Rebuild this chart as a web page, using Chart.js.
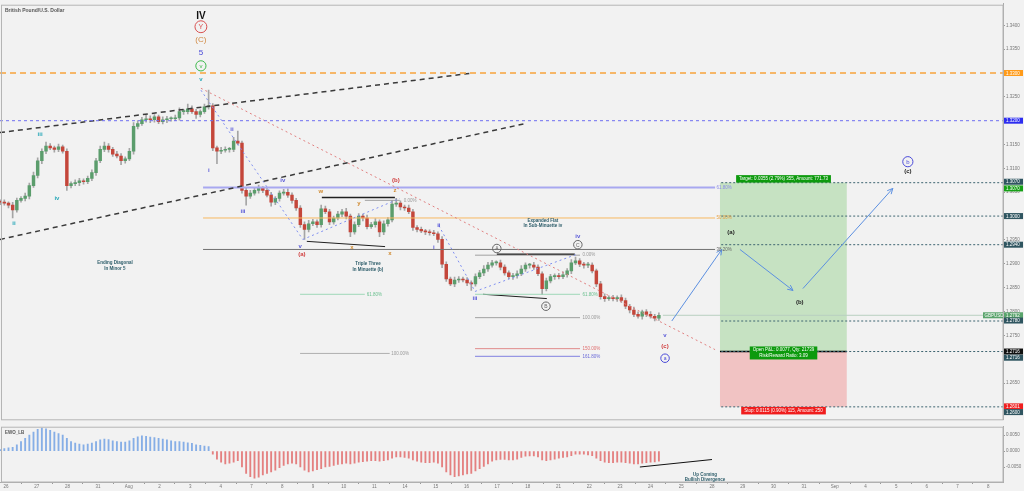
<!DOCTYPE html>
<html>
<head>
<meta charset="utf-8">
<script src="https://cdn.jsdelivr.net/npm/chart.js@4.4.0/dist/chart.umd.min.js"></script>
<style>
  html, body { margin: 0; padding: 0; background: #f2f2f2; }
  #wrap { position: relative; width: 1024px; height: 491px; overflow: hidden; }
  #price { position: absolute; left: 0; top: 0; }
  #osc { position: absolute; left: 0; top: 423px; }
</style>
</head>
<body>
<div id="wrap">
  <canvas id="price" width="1024" height="423"></canvas>
  <canvas id="osc" width="1024" height="68"></canvas>
</div>
<script>
// GBPUSD 4H, 26 Jul - 24 Aug 2017 (x in trading days, 0 = 26 Jul)
const dayLabels = ['26', '27', '28', '31', 'Aug', '2', '3', '4', '7', '8', '9', '10', '11', '14', '15', '16', '17', '18',
  '21', '22', '23', '24', '25', '28', '29', '30', '31', 'Sep', '4', '5', '6', '7', '8'];

const firstOpen = 1.3030;
const closes = [
  1.3029, 1.3027, 1.3023, 1.3013, 1.3033, 1.3037, 1.3042, 1.3064, 1.3085, 1.3116,
  1.3136, 1.3147, 1.3143, 1.3140, 1.3145, 1.3136, 1.3064, 1.3068, 1.3070, 1.3074,
  1.3072, 1.3079, 1.3091, 1.3116, 1.3140, 1.3147, 1.3140, 1.3130, 1.3126, 1.3116,
  1.3120, 1.3136, 1.3188, 1.3194, 1.3202, 1.3204, 1.3202, 1.3208, 1.3198, 1.3202,
  1.3204, 1.3204, 1.3206, 1.3219, 1.3219, 1.3225, 1.3219, 1.3213, 1.3219, 1.3229,
  1.3231, 1.3143, 1.3136, 1.3138, 1.3140, 1.3140, 1.3157, 1.3153, 1.3054, 1.3042,
  1.3048, 1.3054, 1.3058, 1.3054, 1.3044, 1.3029, 1.3037, 1.3048, 1.3050, 1.3044,
  1.3033, 1.3017, 1.2982, 1.2972, 1.2984, 1.2988, 1.2982, 1.3015, 1.3009, 1.2988,
  1.2996, 1.3004, 1.3009, 1.3000, 1.2967, 1.2982, 1.3000, 1.2996, 1.2978, 1.2982,
  1.2988, 1.2967, 1.2984, 1.2992, 1.3025, 1.3027, 1.3019, 1.3017, 1.3009, 1.2976,
  1.2972, 1.2969, 1.2967, 1.2965, 1.2963, 1.2951, 1.2899, 1.2868, 1.2858, 1.2866,
  1.2868, 1.2866, 1.2860, 1.2858, 1.2873, 1.2881, 1.2889, 1.2897, 1.2902, 1.2902,
  1.2893, 1.2881, 1.2873, 1.2875, 1.2879, 1.2889, 1.2897, 1.2897, 1.2893, 1.2879,
  1.2848, 1.2864, 1.2873, 1.2875, 1.2873, 1.2877, 1.2885, 1.2902, 1.2906, 1.2899,
  1.2897, 1.2897, 1.2885, 1.2858, 1.2831, 1.2827, 1.2829, 1.2827, 1.2829, 1.2823,
  1.2811, 1.2803, 1.2794, 1.2790, 1.2799, 1.2794, 1.2790, 1.2786, 1.2792
];
// wick lengths in pips beyond the body
const upWick = [
  4, 5, 3, 6, 5, 4, 6, 5, 7, 6,
  5, 8, 5, 4, 6, 4, 5, 4, 6, 5,
  4, 5, 6, 5, 7, 8, 5, 4, 6, 5,
  4, 6, 8, 6, 5, 7, 6, 5, 4, 6,
  5, 4, 6, 8, 5, 10, 6, 5, 4, 6,
  33, 5, 4, 6, 5, 4, 8, 21, 4, 5,
  6, 5, 7, 4, 5, 6, 4, 5, 6, 7,
  5, 4, 5, 6, 7, 5, 4, 8, 6, 5,
  4, 6, 5, 7, 4, 6, 5, 4, 6, 5,
  7, 4, 6, 5, 8, 10, 5, 4, 6, 5,
  4, 5, 3, 4, 5, 4, 6, 5, 4, 6,
  5, 4, 5, 4, 6, 5, 7, 6, 5, 4,
  6, 5, 4, 5, 6, 7, 5, 4, 6, 5,
  4, 6, 5, 4, 5, 6, 5, 7, 8, 5,
  4, 6, 5, 4, 5, 6, 4, 5, 4, 6,
  5, 4, 6, 5, 4, 5, 6, 4, 5
];
const downWick = [
  5, 4, 6, 17, 5, 4, 5, 6, 4, 5,
  6, 5, 4, 6, 5, 4, 10, 5, 4, 6,
  5, 4, 5, 6, 4, 5, 6, 5, 4, 8,
  5, 4, 6, 5, 4, 5, 6, 5, 4, 5,
  6, 5, 4, 5, 6, 5, 4, 8, 5, 4,
  5, 6, 26, 5, 4, 6, 5, 4, 6, 19,
  5, 4, 6, 5, 4, 8, 5, 6, 4, 5,
  6, 5, 6, 21, 5, 4, 6, 5, 4, 6,
  5, 4, 5, 6, 10, 5, 4, 6, 5, 4,
  5, 10, 6, 5, 4, 5, 6, 5, 4, 6,
  5, 4, 6, 5, 4, 6, 7, 5, 4, 6,
  5, 4, 6, 14, 5, 4, 6, 5, 4, 5,
  6, 5, 4, 6, 5, 4, 5, 6, 5, 4,
  13, 5, 4, 6, 5, 4, 5, 6, 4, 5,
  6, 5, 4, 6, 5, 6, 4, 5, 6, 4,
  5, 6, 5, 4, 6, 5, 4, 6, 5
];
// EWO_LB histogram, in pips
const ewo = [
  5, 8, 10, 12, 20, 30, 40, 50, 60, 68, 72, 70, 65, 60, 55, 50,
  40, 30, 25, 22, 20, 22, 25, 30, 35, 38, 36, 32, 30, 28, 28, 32,
  40, 45, 48, 46, 44, 42, 40, 38, 35, 32, 30, 30, 28, 26, 24, 20, 18, 16, 14,
  -10, -25, -35, -40, -38, -35, -30, -50, -70, -80, -85, -82, -75, -70, -65,
  -60, -52, -45, -40, -38, -40, -50, -60, -65, -62, -58, -55, -50, -48, -45, -42, -40, -38,
  -40, -38, -35, -33, -32, -30, -30, -32, -30, -28, -22, -18, -18, -20, -22,
  -28, -32, -35, -36, -36, -35, -38, -50, -65, -75, -80, -78, -75, -72, -70,
  -62, -55, -48, -40, -32, -28, -26, -26, -28, -28, -25, -20, -16, -15, -15, -18,
  -28, -30, -28, -25, -22, -20, -18, -14, -10, -10, -10, -12, -14,
  -22, -30, -35, -36, -36, -35, -35, -36, -38, -40, -40, -38, -36, -35, -34, -32
];

const firstBarDay = -0.19, lastBarDay = 21.27;
const xMin = -0.195, xMax = 32.48;
const yMin = 1.25739, yMax = 1.34453;

const barDay = i => firstBarDay + i * (lastBarDay - firstBarDay) / (closes.length - 1);
const opens = closes.map((c, i) => i === 0 ? firstOpen : closes[i - 1]);
const highs = closes.map((c, i) => Math.max(c, opens[i]) + upWick[i] / 10000);
const lows = closes.map((c, i) => Math.min(c, opens[i]) - downWick[i] / 10000);

const UP = '#5b9d6c', DOWN = '#c4463a';
const FONT = '"Liberation Sans", Arial, sans-serif';

// drawn objects: [day, price] pairs
const segments = [
  { from: [xMin, 1.3300], to: [xMax, 1.3300], color: '#f7a43c', dash: [6, 4], width: 1.5 },
  { from: [xMin, 1.3200], to: [xMax, 1.3200], color: '#6f6ff0', dash: [3, 3], width: 1 },
  { from: [xMin, 1.3175], to: [15.21, 1.3300], color: '#3a3a3a', dash: [5, 4], width: 1.5 },
  { from: [xMin, 1.2951], to: [16.91, 1.3194], color: '#3a3a3a', dash: [5, 4], width: 1.5 },
  { from: [6.35, 1.3268], to: [23.10, 1.2720], color: '#e08080', dash: [2, 3], width: 1 },
  { from: [6.35, 1.3264], to: [9.67, 1.2951], color: '#7f8ff0', dash: [2, 3], width: 1 },
  { from: [9.67, 1.2951], to: [12.83, 1.3037], color: '#7f8ff0', dash: [2, 3], width: 1 },
  { from: [14.10, 1.2980], to: [15.28, 1.2842], color: '#7f8ff0', dash: [2, 3], width: 1 },
  { from: [15.28, 1.2842], to: [18.60, 1.2920], color: '#7f8ff0', dash: [2, 3], width: 1 },
  // fib retracement of the whole fall
  { from: [6.42, 1.3060], to: [23.10, 1.3060], color: '#a8a8f0', dash: [], width: 2 },
  { from: [6.42, 1.2996], to: [23.10, 1.2996], color: '#f7b860', dash: [], width: 1 },
  { from: [6.42, 1.2930], to: [23.10, 1.2930], color: '#707070', dash: [], width: 1 },
  // fib extension of (a)-(b)
  { from: [11.69, 1.3033], to: [12.83, 1.3033], color: '#a0a0a0', dash: [], width: 1 },
  { from: [9.58, 1.2836], to: [11.69, 1.2836], color: '#9fd8b8', dash: [], width: 1 },
  { from: [9.58, 1.2712], to: [12.50, 1.2712], color: '#b0b0b0', dash: [], width: 1 },
  // fib extension of sub-minuette
  { from: [15.28, 1.2918], to: [18.70, 1.2918], color: '#a0a0a0', dash: [], width: 1 },
  { from: [15.28, 1.2836], to: [18.70, 1.2836], color: '#9fd8b8', dash: [], width: 1 },
  { from: [15.28, 1.2787], to: [18.70, 1.2787], color: '#a0a0a0', dash: [], width: 1 },
  { from: [15.28, 1.2722], to: [18.70, 1.2722], color: '#e08a8a', dash: [], width: 1 },
  { from: [15.28, 1.2706], to: [18.70, 1.2706], color: '#8080e0', dash: [], width: 1 },
  // solid black helper lines
  { from: [9.80, 1.2947], to: [12.35, 1.2936], color: '#202020', dash: [], width: 1 },
  { from: [10.29, 1.3039], to: [12.67, 1.3039], color: '#202020', dash: [], width: 1.5 },
  { from: [15.99, 1.2920], to: [18.53, 1.2920], color: '#202020', dash: [], width: 1.5 },
  { from: [15.54, 1.2836], to: [17.62, 1.2827], color: '#202020', dash: [], width: 1 },
  // trade levels
  { from: [23.30, 1.3070], to: [xMax, 1.3070], color: '#3d6470', dash: [2, 2], width: 1 },
  { from: [23.30, 1.3000], to: [xMax, 1.3000], color: '#3d6470', dash: [2, 2], width: 1 },
  { from: [23.30, 1.2940], to: [xMax, 1.2940], color: '#3d6470', dash: [2, 2], width: 1 },
  { from: [21.40, 1.2792], to: [xMax, 1.2792], color: '#b8cfc0', dash: [], width: 1 },
  { from: [23.30, 1.2780], to: [xMax, 1.2780], color: '#3d6470', dash: [2, 2], width: 1 },
  { from: [23.30, 1.2716], to: [xMax, 1.2716], color: '#3d6470', dash: [2, 2], width: 1 },
  { from: [23.30, 1.2600], to: [xMax, 1.2600], color: '#3d6470', dash: [2, 2], width: 1 },
  { from: [23.26, 1.2716], to: [27.39, 1.2716], color: '#000000', dash: [], width: 1.5 }
];

const arrows = [
  { from: [21.69, 1.2780], to: [23.32, 1.2930] },
  { from: [23.91, 1.2930], to: [25.64, 1.2844] },
  { from: [25.96, 1.2848], to: [28.89, 1.3058] }
];

const boxes = [
  { x1: 23.26, x2: 27.39, y1: 1.3070, y2: 1.2716, color: 'rgba(125, 200, 115, 0.38)' },
  { x1: 23.26, x2: 27.39, y1: 1.2716, y2: 1.2600, color: 'rgba(240, 130, 130, 0.42)' }
];

// wave labels: [day, price, text, colour, size, circled, bold]
const labels = [
  [6.35, 1.3418, 'IV', '#111', 10, false, true],
  [6.35, 1.3397, 'Y', '#d85050', 7, true, false],
  [6.35, 1.3369, '(C)', '#d08840', 8, false, false],
  [6.35, 1.3342, '5', '#4a4ad8', 8, false, false],
  [6.35, 1.3315, 'v', '#3cb84a', 6, true, false],
  [6.35, 1.3286, 'v', '#28a8b8', 6, false, true],
  [1.11, 1.3171, 'iii', '#28a8b8', 6, false, true],
  [1.66, 1.3037, 'iv', '#28a8b8', 6, false, true],
  [0.26, 1.2984, 'ii', '#28a8b8', 6, false, true],
  [6.61, 1.3095, 'i', '#5a5ad8', 6, false, true],
  [7.36, 1.3182, 'ii', '#5a5ad8', 6, false, true],
  [7.72, 1.3009, 'iii', '#5a5ad8', 6, false, true],
  [9.02, 1.3074, 'iv', '#5a5ad8', 6, false, true],
  [9.58, 1.2936, 'v', '#5a5ad8', 6, false, true],
  [9.64, 1.2920, '(a)', '#d03c3c', 6, false, true],
  [12.70, 1.3074, '(b)', '#d03c3c', 6, false, true],
  [10.26, 1.3052, 'w', '#d08a30', 6, false, true],
  [11.50, 1.3027, 'y', '#d08a30', 6, false, true],
  [12.67, 1.3054, 'z', '#d08a30', 6, false, true],
  [11.27, 1.2934, 'x', '#d08a30', 6, false, true],
  [12.51, 1.2922, 'x', '#d08a30', 6, false, true],
  [13.94, 1.2934, 'i', '#5a5ad8', 6, false, true],
  [14.10, 1.2980, 'ii', '#5a5ad8', 6, false, true],
  [15.28, 1.2827, 'iii', '#5a5ad8', 6, false, true],
  [18.63, 1.2957, 'iv', '#5a5ad8', 6, false, true],
  [15.99, 1.2932, 'A', '#666', 5, true, false],
  [18.63, 1.2940, 'C', '#666', 5, true, false],
  [17.59, 1.2811, 'B', '#666', 5, true, false],
  [21.47, 1.2749, 'v', '#5a5ad8', 6, false, true],
  [21.47, 1.2727, '(c)', '#d03c3c', 6, false, true],
  [21.47, 1.2702, 'a', '#4a4ad8', 5, true, false],
  [23.62, 1.2965, '(a)', '#222', 6, false, true],
  [25.86, 1.2819, '(b)', '#222', 6, false, true],
  [29.38, 1.3093, '(c)', '#222', 6, false, true],
  [29.38, 1.3114, 'b', '#4a4ad8', 6, true, false]
];

// fib / note texts: [day, price, text, colour, size, align, bold]
const notes = [
  [12.96, 1.3033, '0.00%', '#999', 4.5, 'left', false],
  [11.75, 1.2836, '61.80%', '#6cc090', 4.5, 'left', false],
  [12.55, 1.2712, '100.00%', '#999', 4.5, 'left', false],
  [18.78, 1.2918, '0.00%', '#999', 4.5, 'left', false],
  [18.78, 1.2836, '61.80%', '#6cc090', 4.5, 'left', false],
  [18.78, 1.2787, '100.00%', '#999', 4.5, 'left', false],
  [18.78, 1.2722, '150.00%', '#e07070', 4.5, 'left', false],
  [18.78, 1.2706, '161.80%', '#6a6ad8', 4.5, 'left', false],
  [23.15, 1.3060, '61.80%', '#8a8ae8', 4.5, 'left', false],
  [23.15, 1.2996, '50.00%', '#e8a040', 4.5, 'left', false],
  [23.15, 1.2930, '38.20%', '#666', 4.5, 'left', false],
  [3.55, 1.2902, 'Ending Diagonal', '#2d5d6a', 4.5, 'center', true],
  [3.55, 1.2889, 'In Minor 5', '#2d5d6a', 4.5, 'center', true],
  [11.79, 1.2899, 'Triple Three', '#2d5d6a', 4.5, 'center', true],
  [11.79, 1.2887, 'In Minuette (b)', '#2d5d6a', 4.5, 'center', true],
  [17.49, 1.2990, 'Expanded Flat', '#2d5d6a', 4.5, 'center', true],
  [17.49, 1.2980, 'In Sub-Minuette iv', '#2d5d6a', 4.5, 'center', true]
];

// tags on the trade box: [day, price, lines, background]
const tags = [
  [25.33, 1.3078, ['Target: 0.0355 (2.79%) 355, Amount: 771.73'], '#0d9a0d'],
  [25.33, 1.2713, ['Open P&L: 0.0077, Qty: 21739', 'Risk/Reward Ratio: 3.09'], '#0d9a0d'],
  [25.33, 1.2592, ['Stop: 0.0115 (0.90%) 115, Amount: 250'], '#f01c1c']
];

// price-scale tags: [price at which drawn, text, background, text colour]
const axisTags = [
  [1.3300, '1.3300', '#ff9b1a', '#fff'],
  [1.3200, '1.3200', '#2d2df0', '#fff'],
  [1.3072, '1.3070', '#2f5560', '#fff'],
  [1.3058, '1.3070', '#16a016', '#fff'],
  [1.3000, '1.3000', '#2f5560', '#fff'],
  [1.2940, '1.2940', '#2f5560', '#fff'],
  [1.2792, '1.2792', '#5aa46c', '#fff'],
  [1.2781, '1.2780', '#2f5560', '#fff'],
  [1.2716, '1.2716', '#111', '#fff'],
  [1.2703, '1.2716', '#2f5560', '#fff'],
  [1.2601, '1.2601', '#f02020', '#fff'],
  [1.2589, '1.2600', '#2f5560', '#fff']
];

function circleText(ctx, px, py, text, color, size) {
  ctx.beginPath();
  ctx.arc(px, py, size * 0.85, 0, Math.PI * 2);
  ctx.strokeStyle = color;
  ctx.lineWidth = 1;
  ctx.stroke();
  ctx.fillText(text, px, py + 0.5);
}

const drawings = {
  id: 'drawings',
  beforeDatasetsDraw(chart) {
    const { ctx, chartArea: a, scales: { x, y } } = chart;
    ctx.save();
    ctx.beginPath();
    ctx.rect(a.left, a.top, a.width, a.height);
    ctx.clip();
    boxes.forEach(b => {
      const x1 = x.getPixelForValue(b.x1), x2 = x.getPixelForValue(b.x2);
      const y1 = y.getPixelForValue(b.y1), y2 = y.getPixelForValue(b.y2);
      ctx.fillStyle = b.color;
      ctx.fillRect(x1, y1, x2 - x1, y2 - y1);
    });
    ctx.restore();
  },
  afterDatasetsDraw(chart) {
    const { ctx, chartArea: a, scales: { x, y } } = chart;
    ctx.save();
    ctx.beginPath();
    ctx.rect(a.left, a.top, a.width, a.height);
    ctx.clip();

    // arrows
    ctx.strokeStyle = '#5b8fe0';
    ctx.fillStyle = '#5b8fe0';
    ctx.lineWidth = 1;
    arrows.forEach(ar => {
      const x1 = x.getPixelForValue(ar.from[0]), y1 = y.getPixelForValue(ar.from[1]);
      const x2 = x.getPixelForValue(ar.to[0]), y2 = y.getPixelForValue(ar.to[1]);
      ctx.beginPath();
      ctx.moveTo(x1, y1);
      ctx.lineTo(x2, y2);
      ctx.stroke();
      const ang = Math.atan2(y2 - y1, x2 - x1);
      ctx.beginPath();
      ctx.moveTo(x2, y2);
      ctx.lineTo(x2 - 6 * Math.cos(ang - 0.45), y2 - 6 * Math.sin(ang - 0.45));
      ctx.moveTo(x2, y2);
      ctx.lineTo(x2 - 6 * Math.cos(ang + 0.45), y2 - 6 * Math.sin(ang + 0.45));
      ctx.stroke();
    });

    ctx.textAlign = 'center';
    ctx.textBaseline = 'middle';
    labels.forEach(([d, p, t, c, s, circled, bold]) => {
      const px = x.getPixelForValue(d), py = y.getPixelForValue(p);
      ctx.font = (bold ? 'bold ' : '') + s + 'px ' + FONT;
      ctx.fillStyle = c;
      if (circled) circleText(ctx, px, py, t, c, s);
      else ctx.fillText(t, px, py);
    });

    notes.forEach(([d, p, t, c, s, align, bold]) => {
      ctx.font = (bold ? 'bold ' : '') + s + 'px ' + FONT;
      ctx.fillStyle = c;
      ctx.textAlign = align;
      ctx.fillText(t, x.getPixelForValue(d), y.getPixelForValue(p));
    });

    ctx.textAlign = 'center';
    ctx.font = '4.5px ' + FONT;
    tags.forEach(([d, p, lines, bg]) => {
      const px = x.getPixelForValue(d), py = y.getPixelForValue(p);
      const w = Math.max(...lines.map(l => ctx.measureText(l).width)) + 6;
      const h = lines.length * 5.5 + 2;
      ctx.fillStyle = bg;
      ctx.fillRect(px - w / 2, py - h / 2, w, h);
      ctx.fillStyle = '#fff';
      lines.forEach((l, i) => ctx.fillText(l, px, py - h / 2 + 3.8 + i * 5.5));
    });

    // title
    ctx.textAlign = 'left';
    ctx.font = 'bold 5px ' + FONT;
    ctx.fillStyle = '#555';
    ctx.fillText('British Pound/U.S. Dollar', a.left + 5, a.top + 7);
    ctx.restore();

    // border
    ctx.save();
    ctx.strokeStyle = '#b5b5b5';
    ctx.lineWidth = 1;
    ctx.strokeRect(a.left + 1.5, a.top + 1.5, a.width - 1.5, a.height - 1);
    ctx.restore();
  },
  afterDraw(chart) {
    const { ctx, chartArea: a, scales: { y } } = chart;
    ctx.save();
    ctx.font = '4.5px ' + FONT;
    ctx.textBaseline = 'middle';
    ctx.textAlign = 'left';
    axisTags.forEach(([p, t, bg, fg]) => {
      const py = y.getPixelForValue(p);
      ctx.fillStyle = bg;
      ctx.fillRect(a.right + 1, py - 3, 19, 6);
      ctx.fillStyle = fg;
      ctx.fillText(t, a.right + 3, py + 0.3);
    });
    const gy = y.getPixelForValue(1.2792);
    ctx.fillStyle = '#5aa46c';
    ctx.fillRect(a.right - 20, gy - 3, 20, 6);
    ctx.fillStyle = '#fff';
    ctx.fillText('GBPUSD', a.right - 18.5, gy + 0.3);
    ctx.restore();
  }
};

const lineSets = segments.map(s => ({
  type: 'line',
  data: [{ x: s.from[0], y: s.from[1] }, { x: s.to[0], y: s.to[1] }],
  borderColor: s.color,
  borderDash: s.dash,
  borderWidth: s.width,
  pointRadius: 0,
  fill: false,
  order: 0
}));

new Chart(document.getElementById('price'), {
  type: 'bar',
  data: {
    datasets: [
      {
        data: closes.map((c, i) => ({ x: barDay(i), y: [lows[i], highs[i]] })),
        backgroundColor: '#a5a5a5',
        barThickness: 1,
        grouped: false,
        order: 3
      },
      {
        data: closes.map((c, i) => ({ x: barDay(i), y: [opens[i], c] })),
        backgroundColor: closes.map((c, i) => c >= opens[i] ? UP : DOWN),
        barThickness: 2.8,
        minBarLength: 1,
        grouped: false,
        order: 2
      },
      ...lineSets
    ]
  },
  options: {
    responsive: false,
    animation: false,
    layout: { padding: 0 },
    plugins: { legend: { display: false }, tooltip: { enabled: false } },
    scales: {
      x: { type: 'linear', min: xMin, max: xMax, offset: false, display: false },
      y: {
        position: 'right', min: yMin, max: yMax, beginAtZero: false,
        afterFit: s => { s.width = 21; },
        border: { display: true, color: '#aaa' },
        grid: { drawOnChartArea: false, tickLength: 2, color: '#999' },
        ticks: {
          stepSize: 0.005, includeBounds: false, padding: 1,
          color: '#777', font: { size: 4.5, family: FONT },
          callback: v => v.toFixed(4)
        }
      }
    }
  },
  plugins: [drawings]
});

// oscillator pane
const oscNotes = {
  id: 'oscNotes',
  afterDatasetsDraw(chart) {
    const { ctx, chartArea: a, scales: { x, y } } = chart;
    ctx.save();
    ctx.strokeStyle = '#b5b5b5';
    ctx.strokeRect(a.left + 1.5, a.top + 0.5, a.width - 1.5, a.height - 0.5);
    ctx.font = 'bold 4.5px ' + FONT;
    ctx.fillStyle = '#555';
    ctx.textBaseline = 'middle';
    ctx.fillText('EWO_LB', a.left + 5, a.top + 6);
    ctx.textAlign = 'center';
    ctx.fillStyle = '#2d5d6a';
    ctx.fillText('Up Coming', x.getPixelForValue(22.77), y.getPixelForValue(-0.0073));
    ctx.fillText('Bullish Divergence', x.getPixelForValue(22.77), y.getPixelForValue(-0.0091));
    ctx.restore();
  }
};

new Chart(document.getElementById('osc'), {
  type: 'bar',
  data: {
    datasets: [
      {
        data: ewo.map((v, i) => ({ x: barDay(i), y: v / 10000 })),
        backgroundColor: ewo.map(v => v >= 0 ? '#86aee6' : '#e48080'),
        barThickness: 1.2,
        grouped: false,
        order: 2
      },
      {
        type: 'line',
        data: [{ x: 20.65, y: -0.0050 }, { x: 23.00, y: -0.00265 }],
        borderColor: '#111',
        borderWidth: 1,
        pointRadius: 0,
        order: 0
      }
    ]
  },
  options: {
    responsive: false,
    animation: false,
    layout: { padding: 0 },
    plugins: { legend: { display: false }, tooltip: { enabled: false } },
    scales: {
      x: {
        type: 'linear', min: xMin, max: xMax, offset: false,
        afterFit: s => { s.height = 9; },
        afterBuildTicks: s => { s.ticks = dayLabels.map((l, i) => ({ value: i })); },
        border: { display: true, color: '#aaa' },
        grid: { drawOnChartArea: false, tickLength: 2, color: '#999' },
        ticks: {
          padding: 0, maxRotation: 0, autoSkip: false,
          color: '#777', font: { size: 4.5, family: FONT },
          callback: v => dayLabels[v]
        }
      },
      y: {
        position: 'right', min: -0.0097, max: 0.00765,
        afterFit: s => { s.width = 21; },
        afterBuildTicks: s => { s.ticks = [-0.005, 0, 0.005].map(v => ({ value: v })); },
        border: { display: true, color: '#aaa' },
        grid: { drawOnChartArea: false, tickLength: 2, color: '#999' },
        ticks: {
          padding: 1, color: '#777', font: { size: 4.5, family: FONT },
          callback: v => v.toFixed(4)
        }
      }
    }
  },
  plugins: [oscNotes]
});
</script>
</body>
</html>
